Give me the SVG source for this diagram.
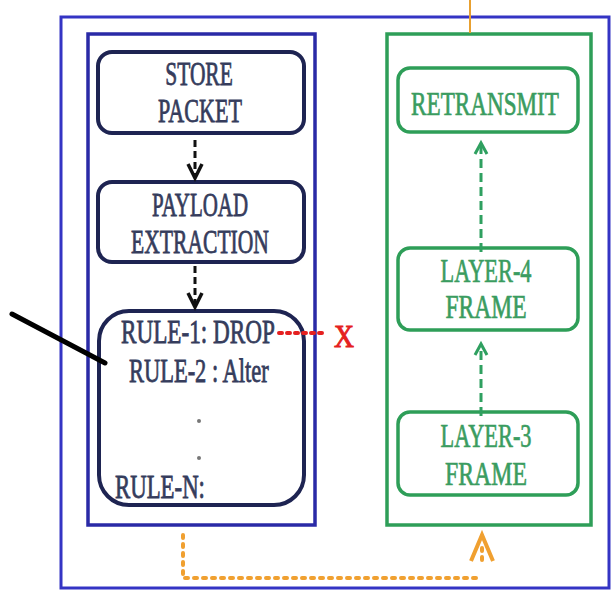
<svg xmlns="http://www.w3.org/2000/svg" width="612" height="590" viewBox="0 0 612 590">
  <defs>
    <style>
      .frame-outer { fill: none; stroke: #3434c4; stroke-width: 3; }
      .frame-blue { fill: none; stroke: #2a2aa6; stroke-width: 3.5; }
      .frame-green { fill: none; stroke: #2e9e58; stroke-width: 3.5; }
      .box-navy { fill: #ffffff; stroke: #1e2452; stroke-width: 4; }
      .box-green { fill: #ffffff; stroke: #2e9e58; stroke-width: 3.5; }
      .lbl-navy { font-family: "Liberation Serif", "Times New Roman", serif; font-size: 34px; fill: #353c5c; stroke: #353c5c; stroke-width: 0.8; }
      .lbl-green { font-family: "Liberation Serif", "Times New Roman", serif; font-size: 34px; fill: #3a9c60; stroke: #3a9c60; stroke-width: 0.7; }
      .mid { text-anchor: middle; }
      .flow-black { stroke: #111111; stroke-width: 3; stroke-dasharray: 7 4; fill: none; }
      .head-black { fill: none; stroke: #111111; stroke-width: 3.5; }
      .flow-green { stroke: #2fa060; stroke-width: 3; stroke-dasharray: 9 5; fill: none; }
      .head-green { fill: none; stroke: #2fa060; stroke-width: 3; }
      .flow-orange { stroke: #f0a030; stroke-width: 4; stroke-dasharray: 3 6; stroke-linecap: round; fill: none; }
      .flow-red { stroke: #e52020; stroke-width: 4; stroke-dasharray: 3 5; stroke-linecap: round; fill: none; }
    </style>
  </defs>

  <!-- enclosing frames -->
  <rect class="frame-outer" x="61" y="17" width="548" height="571"/>
  <rect class="frame-blue" x="88" y="34" width="227" height="491"/>
  <rect class="frame-green" x="387" y="34" width="204" height="491"/>

  <!-- left pipeline -->
  <g id="store-packet">
    <rect class="box-navy" x="98" y="52" width="206" height="81" rx="14"/>
    <text class="lbl-navy mid" transform="translate(199 85) scale(0.631 1)">STORE</text>
    <text class="lbl-navy mid" transform="translate(200 122) scale(0.65 1)">PACKET</text>
  </g>
  <g id="payload-extraction">
    <rect class="box-navy" x="98" y="182" width="206" height="80" rx="14"/>
    <text class="lbl-navy mid" transform="translate(200 216) scale(0.616 1)">PAYLOAD</text>
    <text class="lbl-navy mid" transform="translate(200 253) scale(0.635 1)">EXTRACTION</text>
  </g>
  <g id="rules">
    <rect class="box-navy" x="99" y="311" width="205" height="194" rx="30"/>
    <text class="lbl-navy" transform="translate(121 343) scale(0.682 1)">RULE-1: DROP</text>
    <text class="lbl-navy" transform="translate(129 382) scale(0.661 1)">RULE-2 : Alter</text>
    <circle cx="199" cy="421" r="2" fill="#777"/>
    <circle cx="199" cy="458" r="2" fill="#777"/>
    <text class="lbl-navy" transform="translate(115 498) scale(0.671 1)">RULE-N:</text>
  </g>

  <!-- right pipeline -->
  <g id="retransmit">
    <rect class="box-green" x="398" y="68" width="180" height="64" rx="12"/>
    <text class="lbl-green mid" transform="translate(485 115) scale(0.681 1)">RETRANSMIT</text>
  </g>
  <g id="layer4-frame">
    <rect class="box-green" x="398" y="248" width="180" height="82" rx="12"/>
    <text class="lbl-green mid" transform="translate(486 282) scale(0.657 1)">LAYER-4</text>
    <text class="lbl-green mid" transform="translate(486 318) scale(0.692 1)">FRAME</text>
  </g>
  <g id="layer3-frame">
    <rect class="box-green" x="398" y="412" width="180" height="83" rx="12"/>
    <text class="lbl-green mid" transform="translate(486 447) scale(0.657 1)">LAYER-3</text>
    <text class="lbl-green mid" transform="translate(486 485) scale(0.7 1)">FRAME</text>
  </g>

  <!-- connectors -->
  <g id="connectors">
    <path class="flow-black" d="M195 140 V176"/>
    <path class="head-black" d="M188 164 L195 178 L202 164"/>
    <path class="flow-black" d="M195 266 V306"/>
    <path class="head-black" d="M188 293 L195 307 L202 293"/>

    <path class="flow-green" d="M481 252 V146"/>
    <path class="head-green" d="M475 154 L481 143 L487 154"/>
    <path class="flow-green" d="M481 416 V347"/>
    <path class="head-green" d="M475 355 L481 344 L487 355"/>

    <path class="flow-red" d="M279 333 H327"/>
    <text transform="translate(344 347) scale(0.866 1)" text-anchor="middle" font-family="Liberation Serif, serif" font-size="32" fill="#e52020" stroke="#e52020" stroke-width="1">X</text>

    <path class="flow-orange" d="M183 535 V578 H480"/>
    <path d="M471 561 L482 535 L493 561" fill="none" stroke="#f0a030" stroke-width="4"/>
    <path d="M482 548 V565" stroke="#f0a030" stroke-width="4" stroke-dasharray="3 6" stroke-linecap="round"/>

    <path d="M470 0 V33" stroke="#e8a030" stroke-width="2"/>

    <path d="M12 314 L105 363" stroke="#000" stroke-width="5" stroke-linecap="round"/>
  </g>
</svg>
